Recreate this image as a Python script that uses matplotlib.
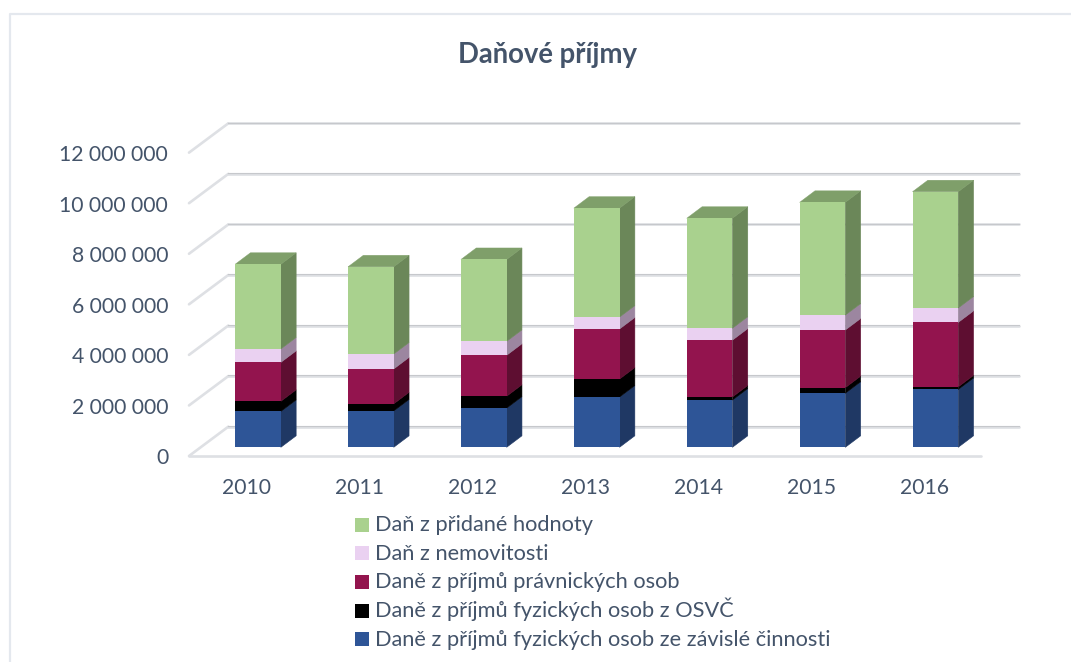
import matplotlib
matplotlib.use("Agg")
import matplotlib.pyplot as plt
import numpy as np
from matplotlib.patches import Polygon, Rectangle
from matplotlib.lines import Line2D
from matplotlib.transforms import ScaledTranslation

plt.rcParams['font.family'] = ['Lato', 'DejaVu Sans']

years = ['2010', '2011', '2012', '2013', '2014', '2015', '2016']
zavisla = [1420000, 1440000, 1550000, 1990000, 1870000, 2140000, 2290000]
osvc = [400000, 280000, 470000, 710000, 120000, 220000, 100000]
pravnicke = [1540000, 1380000, 1620000, 1980000, 2250000, 2280000, 2550000]
nemovitosti = [530000, 590000, 550000, 470000, 470000, 590000, 570000]
dph = [3350000, 3450000, 3240000, 4310000, 4350000, 4460000, 4600000]
y_ticks = [0, 2000000, 4000000, 6000000, 8000000, 10000000, 12000000]
y_labels = ['0', '2 000 000', '4 000 000', '6 000 000', '8 000 000', '10 000 000', '12 000 000']

names = ['Daně z příjmů fyzických osob ze závislé činnosti',
         'Daně z příjmů fyzických osob z OSVČ',
         'Daně z příjmů právnických osob',
         'Daň z nemovitosti',
         'Daň z přidané hodnoty']
series = [zavisla, osvc, pravnicke, nemovitosti, dph]
front = ['#2E5597', '#000000', '#93144E', '#EAD1F1', '#A9D18E']
side = ['#1F3864', '#000000', '#5E0E31', '#9C86A0', '#6B8759']
top_col = '#7F9F6A'
text_col = '#44546A'

W, H = 1071, 662
fig = plt.figure(figsize=(W / 100, H / 100), dpi=100, facecolor='white')

# axes: bar front plane, pixel geometry of the reference
PX_Y0, PX_PER_UNIT = 447.3, 25.28e-6
PX_CAT0, PX_PER_CAT = 258.0, 112.9
AX_L, AX_R = 189.0, 1019.0
ax_h = PX_PER_UNIT * 12000000
ax = fig.add_axes([AX_L / W, (H - PX_Y0) / H, (AX_R - AX_L) / W, ax_h / H])
ax.set_xlim((AX_L - PX_CAT0) / PX_PER_CAT, (AX_R - PX_CAT0) / PX_PER_CAT)
ax.set_ylim(0, 12000000)
for s in ax.spines.values():
    s.set_visible(False)
ax.patch.set_alpha(0)

def ux(px):
    return px / PX_PER_CAT

def uy(px):
    return px / PX_PER_UNIT

# depth of the bar and of the wall relative to the bar front plane
dx, dy = ux(15.3), uy(11.5)
bar_w = ux(45.7)
x_f = (189.0 - PX_CAT0) / PX_PER_CAT
x_b = (228.3 - PX_CAT0) / PX_PER_CAT
x_bend = (1019.0 - PX_CAT0) / PX_PER_CAT
x_fend = (981.0 - PX_CAT0) / PX_PER_CAT
y_f = uy(-8.7)
y_b = uy(20.6)

def wall_line(xs, ys, darker=False):
    ax.plot(xs, ys, color='#DEE0E4', lw=1.9, clip_on=False, zorder=1, solid_capstyle='round')
    if darker:
        ax.plot(xs, np.array(ys) + uy(0.7), color='#C6C8CC', lw=0.8, clip_on=False, zorder=1.1)

for t in y_ticks:
    wall_line([x_f, x_b], [t + y_f, t + y_b])
    wall_line([x_b, x_bend], [t + y_b, t + y_b], darker=True)
wall_line([x_f, x_fend], [y_f, y_f])

# stacked bars with their depth faces
x = np.arange(len(years))
bottom = np.zeros(len(years))
for vals, fc, sc, nm in zip(series, front, side, names):
    vals = np.array(vals, dtype=float)
    ax.bar(x, vals, width=bar_w, bottom=bottom, color=fc, lw=0, zorder=3, label=nm)
    for xi, b, v in zip(x, bottom, vals):
        r = xi + bar_w / 2
        ax.add_patch(Polygon([(r, b), (r + dx, b + dy), (r + dx, b + v + dy), (r, b + v)],
                             closed=True, fc=sc, ec=sc, lw=0.4, zorder=2.9, clip_on=False))
    bottom = bottom + vals
for xi, t in zip(x, bottom):
    l, r = xi - bar_w / 2, xi + bar_w / 2
    ax.add_patch(Polygon([(l, t), (r, t), (r + dx, t + dy), (l + dx, t + dy)],
                         closed=True, fc=top_col, ec=top_col, lw=0.3, zorder=2.9, clip_on=False))

# ticks sit on the front edge of the floor
ax.set_yticks(y_ticks, y_labels)
ax.set_xticks(x, years)
ax.tick_params(axis='both', length=0, labelsize=15.2, labelcolor=text_col)
ax.tick_params(axis='y', pad=15)
ax.tick_params(axis='x', pad=22)
ty = ScaledTranslation(0, -9.0 / 100, fig.dpi_scale_trans)
tx = ScaledTranslation(-11.3 / 100, 0, fig.dpi_scale_trans)
for lab in ax.get_yticklabels():
    lab.set_transform(lab.get_transform() + ty)
for lab in ax.get_xticklabels():
    lab.set_transform(lab.get_transform() + tx)

fig.text(547 / W, 1 - 55 / H, 'Daňové příjmy', ha='center', va='center',
         fontsize=19.8, fontweight='bold', color=text_col)

# legend rows at a fixed pitch, reversed order as in the reference
baselines = [531, 559.5, 588.3, 617, 645.5]
for nm, c, base in zip(names[::-1], front[::-1], baselines):
    fig.add_artist(Rectangle((355 / W, 1 - (base + 0.5) / H), 14 / W, 14 / H,
                             fc=c, ec='none', transform=fig.transFigure))
    fig.text(375 / W, 1 - base / H, nm, ha='left', va='baseline',
             fontsize=15.7, color=text_col)

# outer chart frame
fig.add_artist(Line2D([9.5 / W, 9.5 / W, 1.0], [0, 1 - 13.5 / H, 1 - 13.5 / H],
                      color='#E4E8EE', lw=1.6, transform=fig.transFigure))

fig.savefig('out.png', dpi=100, facecolor='white')
